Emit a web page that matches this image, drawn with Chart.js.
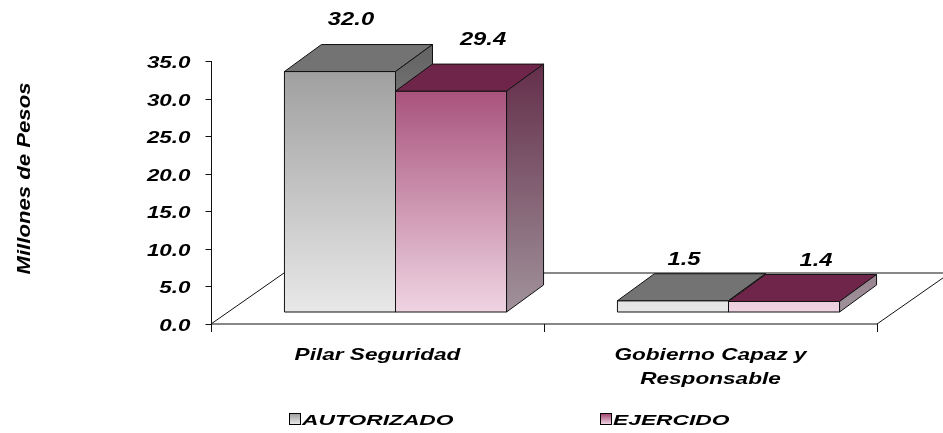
<!DOCTYPE html>
<html lang="es">
<head>
<meta charset="UTF-8">
<title>chart</title>
<script src="https://cdn.jsdelivr.net/npm/chart.js"></script>
<style>
  body { margin: 0; background: #fff; }
  #wrap { width: 943px; height: 433px; }
</style>
</head>
<body>
<div id="wrap"><canvas id="barChart" width="943" height="433"></canvas></div>
<script>
// datos
const categories = [['Pilar Seguridad'], ['Gobierno Capaz y', 'Responsable']];
const seriesNames = ['AUTORIZADO', 'EJERCIDO'];
const autorizado = [32.0, 1.5];
const ejercido = [29.4, 1.4];
const yMin = 0, yMax = 35, yStep = 5;
const yTitle = 'Millones de Pesos';

// 3d look
const FRONT = { dx: 18, dy: -12 };
const DEPTH = { dx: 37, dy: -27 };
const FLOOR = { dx: 73, dy: -51 };

// text styles (the original uses a wide italic face)
const TXT = {
  tick:   { font: 'italic bold 16px "Liberation Sans"', sx: 1.4 },
  value:  { font: 'italic bold 19px "Liberation Sans"', sx: 1.25 },
  cat:    { font: 'italic bold 17px "Liberation Sans"', sx: 1.33 },
  title:  { font: 'italic bold 18px "Liberation Sans"', sx: 1.23 },
  legend: { font: 'italic bold 15px "Liberation Sans"', sx: 1.52 }
};

const faces = [
  { front: ['#999999', '#e8e8e8'], top: '#737373', side: ['#5c5c5c', '#b0b0b0'] },
  { front: ['#9b3a69', '#efd4e2'], top: '#6f2449', side: ['#5a1d3d', '#a0929a'] }
];

function wideText(ctx, s, x, y, st, align, rot) {
  ctx.save();
  ctx.font = st.font;
  ctx.fillStyle = '#000';
  ctx.textAlign = align || 'left';
  ctx.textBaseline = 'alphabetic';
  ctx.translate(x, y);
  if (rot) ctx.rotate(rot);
  ctx.scale(st.sx, 1);
  ctx.fillText(s, 0, 0);
  ctx.restore();
}

function poly(ctx, pts, fill) {
  ctx.beginPath();
  ctx.moveTo(pts[0][0], pts[0][1]);
  for (let i = 1; i < pts.length; i++) ctx.lineTo(pts[i][0], pts[i][1]);
  ctx.closePath();
  ctx.fillStyle = fill;
  ctx.fill();
  ctx.stroke();
}

const box3d = {
  id: 'box3d',
  afterDraw(chart) {
    const ctx = chart.ctx;
    const area = chart.chartArea;
    const xs = chart.scales.x, ys = chart.scales.y;
    const y0 = ys.getPixelForValue(0);
    ctx.save();
    ctx.strokeStyle = '#111';
    ctx.lineWidth = 1;

    // floor
    ctx.beginPath();
    ctx.moveTo(area.left, y0);
    ctx.lineTo(area.left + FLOOR.dx, y0 + FLOOR.dy);
    ctx.lineTo(area.right + FLOOR.dx, y0 + FLOOR.dy);
    ctx.lineTo(area.right, y0);
    ctx.lineTo(area.left, y0);
    ctx.stroke();
    // category ticks
    const nCat = categories.length;
    for (let i = 0; i <= nCat; i++) {
      const x = Math.round(area.left + (area.right - area.left) * i / nCat) + 0.5;
      ctx.beginPath();
      ctx.moveTo(x, y0);
      ctx.lineTo(x, y0 + 8);
      ctx.stroke();
    }

    // value axis
    const ax = Math.round(area.left) + 0.5;
    ctx.beginPath();
    ctx.moveTo(ax, ys.getPixelForValue(yMax));
    ctx.lineTo(ax, y0);
    ctx.stroke();
    ys.ticks.forEach(t => {
      const y = Math.round(ys.getPixelForValue(t.value)) + 0.5;
      ctx.beginPath();
      ctx.moveTo(ax - 6, y);
      ctx.lineTo(ax, y);
      ctx.stroke();
      wideText(ctx, t.value.toFixed(1), ax - 21, y + 6, TXT.tick, 'right');
    });

    // bars
    const metas = chart.data.datasets.map((d, i) => chart.getDatasetMeta(i));
    for (let c = 0; c < nCat; c++) {
      metas.forEach((meta, d) => {
        const el = meta.data[c];
        const f = faces[d];
        const xl = el.x - el.width / 2 + FRONT.dx, xr = el.x + el.width / 2 + FRONT.dx;
        const yt = el.y + FRONT.dy, yb = el.base + FRONT.dy;
        const gF = ctx.createLinearGradient(0, area.top + FRONT.dy, 0, y0 + FRONT.dy);
        gF.addColorStop(0, f.front[0]);
        gF.addColorStop(1, f.front[1]);
        poly(ctx, [[xl, yt], [xr, yt], [xr, yb], [xl, yb]], gF);
        poly(ctx, [[xl, yt], [xr, yt], [xr + DEPTH.dx, yt + DEPTH.dy], [xl + DEPTH.dx, yt + DEPTH.dy]], f.top);
        const gS = ctx.createLinearGradient(0, area.top + FRONT.dy + DEPTH.dy, 0, y0 + FRONT.dy);
        gS.addColorStop(0, f.side[0]);
        gS.addColorStop(1, f.side[1]);
        poly(ctx, [[xr, yt], [xr + DEPTH.dx, yt + DEPTH.dy], [xr + DEPTH.dx, yb + DEPTH.dy], [xr, yb]], gS);
      });
    }

    // value labels
    const labelDx = [11, 32];
    metas.forEach((meta, d) => {
      meta.data.forEach((el, c) => {
        const v = chart.data.datasets[d].data[c];
        const h = el.base - el.y;
        const x = el.x + FRONT.dx + labelDx[d];
        const y = el.y + FRONT.dy + DEPTH.dy - 8 - 0.05 * h;
        wideText(ctx, v.toFixed(1), x, y, TXT.value, 'center');
      });
    });

    // category labels
    categories.forEach((lines, i) => {
      const x = xs.getPixelForValue(i);
      lines.forEach((s, k) => {
        wideText(ctx, s, x, y0 + 36 + k * 24, TXT.cat, 'center');
      });
    });

    // axis title
    wideText(ctx, yTitle, 30, (area.top + y0) / 2 - 14, TXT.title, 'center', -Math.PI / 2);

    // legend
    const legX = [289, 600];
    seriesNames.forEach((name, d) => {
      const g = ctx.createLinearGradient(0, 413, 0, 424);
      g.addColorStop(0, faces[d].front[0]);
      g.addColorStop(1, faces[d].front[1]);
      ctx.fillStyle = g;
      ctx.fillRect(legX[d] + 0.5, 413.5, 11, 11);
      ctx.strokeStyle = '#000';
      ctx.strokeRect(legX[d] + 0.5, 413.5, 11, 11);
      wideText(ctx, name, legX[d] + 13, 425, TXT.legend, 'left');
    });
    ctx.restore();
  }
};

new Chart(document.getElementById('barChart').getContext('2d'), {
  type: 'bar',
  data: {
    labels: categories,
    datasets: [
      { label: seriesNames[0], data: autorizado, backgroundColor: 'rgba(0,0,0,0)', borderWidth: 0 },
      { label: seriesNames[1], data: ejercido, backgroundColor: 'rgba(0,0,0,0)', borderWidth: 0 }
    ]
  },
  options: {
    responsive: false,
    animation: false,
    events: [],
    layout: { padding: { left: 211, right: 66, top: 61, bottom: 109 } },
    datasets: { bar: { categoryPercentage: 0.667, barPercentage: 1 } },
    scales: {
      x: { display: false, offset: true },
      y: { display: false, min: yMin, max: yMax, ticks: { stepSize: yStep } }
    },
    plugins: { legend: { display: false }, tooltip: { enabled: false } }
  },
  plugins: [box3d]
});
</script>
</body>
</html>
